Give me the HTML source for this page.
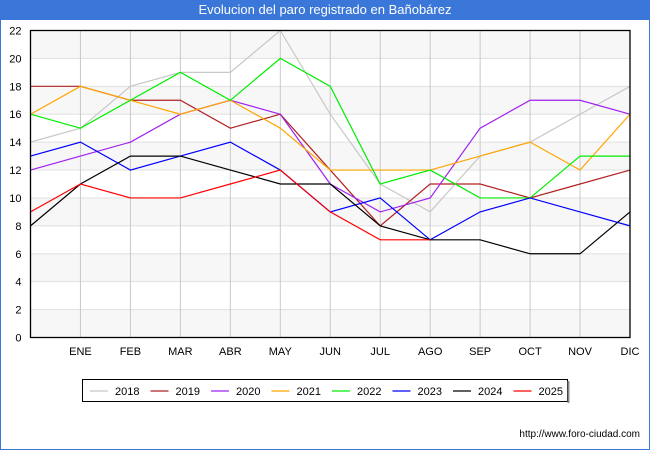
<!DOCTYPE html>
<html><head><meta charset="utf-8"><style>
body{margin:0;width:650px;height:450px;overflow:hidden;font-family:"Liberation Sans","DejaVu Sans",sans-serif;}
#frame{position:absolute;left:0;top:0;width:648px;height:448px;border:1px solid #3a77d8;background:#fff;}
#title{position:absolute;left:0;top:0;width:650px;height:20px;background:#3a77d8;color:#fff;font-size:13px;line-height:20px;text-align:center;}
</style></head><body>
<div id="frame"></div>
<div id="title">Evolucion del paro registrado en Bañobárez</div>
<svg id="chart" width="650" height="450" style="position:absolute;left:0;top:0"></svg>
<script>
const months=["","ENE","FEB","MAR","ABR","MAY","JUN","JUL","AGO","SEP","OCT","NOV","DIC"];
const yTicks=[0,2,4,6,8,10,12,14,16,18,20,22];
const years=["2018","2019","2020","2021","2022","2023","2024","2025"];
const colors=["#c8c8c8","#b22222","#a020f0","#ffa500","#00ee00","#0000ff","#000000","#ff0000"];
const s2018=[14,15,18,19,19,22,16,11,9,13,14,16,18];
const s2019=[18,18,17,17,15,16,12,8,11,11,10,11,12];
const s2020=[12,13,14,16,17,16,11,9,10,15,17,17,16];
const s2021=[16,18,17,16,17,15,12,12,12,13,14,12,16];
const s2022=[16,15,17,19,17,20,18,11,12,10,10,13,13];
const s2023=[13,14,12,13,14,12,9,10,7,9,10,9,8];
const s2024=[8,11,13,13,12,11,11,8,7,7,6,6,9];
const s2025=[9,11,10,10,11,12,9,7,7];
const series=[s2018,s2019,s2020,s2021,s2022,s2023,s2024,s2025];
const X0=30.5,X1=630,Y0=337.5,Y1=30.5,YMAX=22;
const xs=i=>X0+i*(X1-X0)/12;
const ys=v=>Y0-v*(Y0-Y1)/YMAX;
const NS="http://www.w3.org/2000/svg";
const svg=document.getElementById('chart');
function mk(t,a){const e=document.createElementNS(NS,t);for(const k in a)e.setAttribute(k,a[k]);svg.appendChild(e);return e;}
for(let i=0;i<yTicks.length-1;i++){
  if(i%2===0){const r=mk('rect',{x:X0,y:ys(yTicks[i+1]),width:X1-X0,height:ys(yTicks[i])-ys(yTicks[i+1]),fill:'#f7f7f7'});
  
  }
}
yTicks.forEach(v=>{
  const l=mk('line',{x1:X0,x2:X1,y1:ys(v),y2:ys(v),stroke:'#e0e0e0','stroke-width':1});
  
  
  const t=mk('text',{x:X0-9,y:ys(v)+4,'text-anchor':'end','font-size':11,fill:'#000'});
  t.textContent=v;
  
  
});
months.forEach((m,i)=>{
  if(i>0){const l=mk('line',{x1:xs(i),x2:xs(i),y1:Y1,y2:Y0,stroke:'#c8c8c8','stroke-width':1});
  
  }
  const t=mk('text',{x:xs(i),y:355,'text-anchor':'middle','font-size':11,fill:'#000'});
  t.textContent=m;
  
  
});
series.forEach((s,k)=>{
  const p=mk('polyline',{points:s.map((v,i)=>xs(i)+','+ys(v)).join(' '),fill:'none',stroke:colors[k],'stroke-width':1.2});
  
  
});
const ax=mk('rect',{x:X0,y:Y1,width:X1-X0,height:Y0-Y1,fill:'none',stroke:'#000','stroke-width':1.3});


const lg=mk('rect',{x:82.5,y:379.5,width:485,height:22,fill:'#fff',stroke:'#000','stroke-width':1});


const sh=mk('line',{x1:568.5,x2:568.5,y1:381,y2:403,stroke:'#888','stroke-width':2});


years.forEach((y,k)=>{
  const x=90+k*60.5;
  const l=mk('line',{x1:x,x2:x+18,y1:391,y2:391,stroke:colors[k],'stroke-width':1.3});
  
  
  const t=mk('text',{x:x+25,y:395,'font-size':11,fill:'#000'});
  t.textContent=y;
  
  
});
const u=mk('text',{x:640,y:437,'text-anchor':'end','font-size':10,fill:'#000'});
u.textContent='http://www.foro-ciudad.com';


</script>
</body></html>
